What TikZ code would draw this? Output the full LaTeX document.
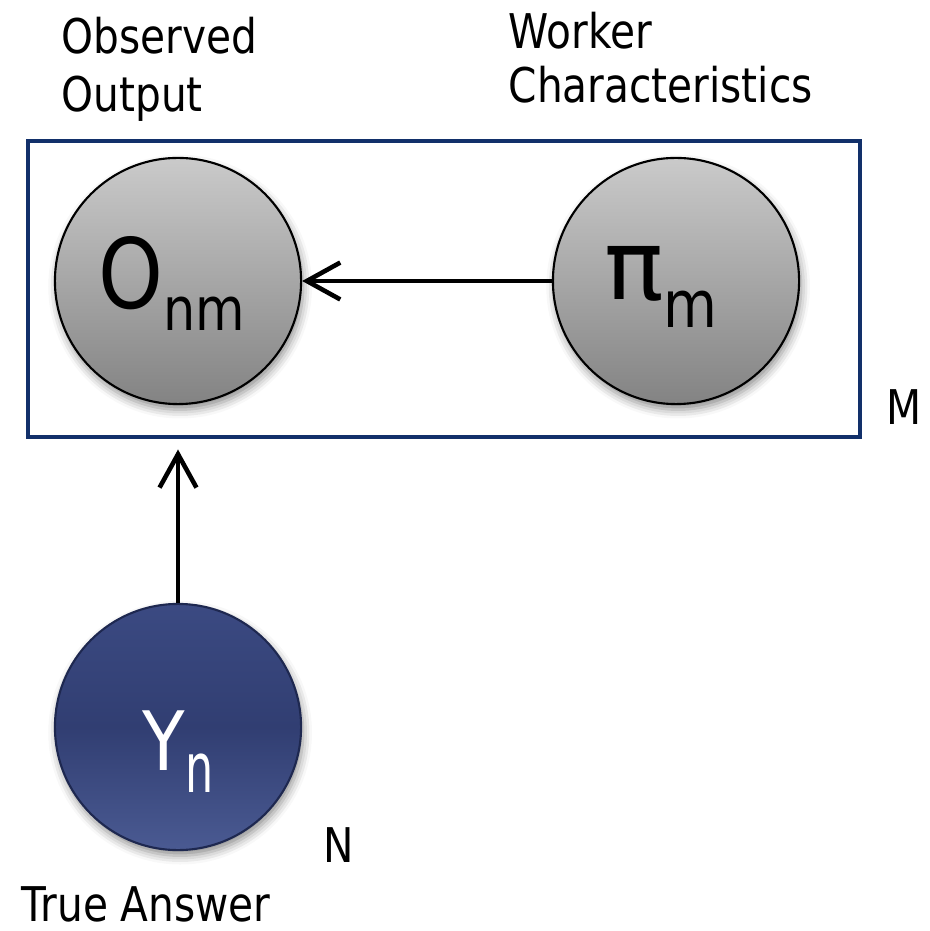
\documentclass[tikz,border=0pt]{standalone}
\usepackage{fontspec}
\setmainfont[FakeStretch=0.85]{DejaVu Sans}
\usetikzlibrary{arrows.meta,shadows.blur}
\definecolor{plateblue}{HTML}{12306A}
\definecolor{graytop}{HTML}{CACACA}
\definecolor{graybot}{HTML}{838383}
\definecolor{navytop}{HTML}{3B4A82}
\definecolor{navymid}{HTML}{313E72}
\definecolor{navybot}{HTML}{4A5A92}
\definecolor{navyedge}{HTML}{1E2850}
\begin{document}
\begin{tikzpicture}[x=0.01cm,y=-0.01cm,
  lab/.style={inner sep=0pt, font=\fontsize{13.6pt}{16.5pt}\selectfont, align=left},
  plate/.style={draw=plateblue, line width=1.05pt, minimum width=8.32cm, minimum height=2.96cm, inner sep=0pt},
  varnode/.style={circle, minimum size=2.46cm, inner sep=0pt, line width=0.6pt, text depth=0pt,
    blur shadow={shadow xshift=0.6pt, shadow yshift=-1.6pt, shadow blur radius=2.5pt, shadow opacity=45}},
  obs/.style={varnode, draw=black, top color=graytop, bottom color=graybot},
  lat/.style={varnode, draw=navyedge, top color=navytop, bottom color=navybot, middle color=navymid, text=white},
  edge/.style={line width=1.3pt, -{Straight Barb[length=9.5pt,width=10.5pt]}}
]
\path[use as bounding box] (0,0) rectangle (929,931);

\node[plate] (plate) at (444,289) {};

\node[obs, text height=15.4pt] (O) at (178,281) {\hspace{-3.4pt}\fontsize{27.6pt}{28pt}\selectfont O\raisebox{-6.3pt}{\fontsize{17pt}{18pt}\selectfont nm}};
\node[obs, text height=10.8pt] (pi) at (676,281) {\hspace{-8.5pt}\fontsize{27.6pt}{28pt}\selectfont \scalebox{1.2}[1]{π}\raisebox{-7.7pt}{\fontsize{18.5pt}{18pt}\selectfont m}};
\node[lat, text height=24.5pt] (Y) at (178,727) {\fontsize{23.3pt}{24pt}\selectfont Y\raisebox{-6.3pt}{\fontsize{17.5pt}{18pt}\selectfont \scalebox{0.85}[1.12]{n}}};

\draw[edge] (pi.west) -- (O.east);
\draw[edge, shorten >=3pt] (Y.north) -- (Y.north |- plate.south);

\node[lab, anchor=north west] (obslab) at (61,16) {Observed\\Output};
\node[lab, anchor=north west, font=\fontsize{13.6pt}{15.6pt}\selectfont] (worklab) at (508,11) {Worker\\Characteristics};
\node[lab, anchor=base west] (mlab) at (886,425) {M};
\node[lab, anchor=base west] (nlab) at (323,862) {N};
\node[lab, anchor=base west] (truelab) at (21,921) {True Answer};
\end{tikzpicture}
\end{document}
